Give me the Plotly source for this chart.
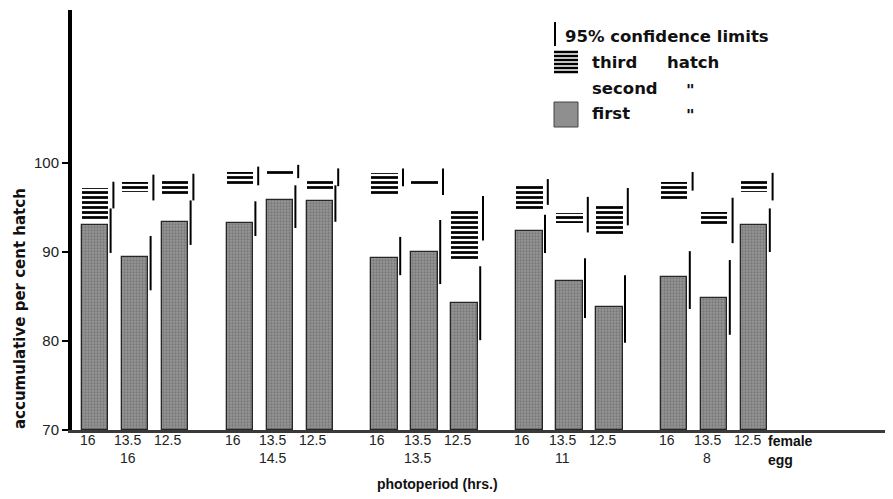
import plotly.graph_objects as go

# ---------------- data ----------------
egg_photoperiod = ["16", "14.5", "13.5", "11", "8"]
female_photoperiod = ["16", "13.5", "12.5"]

# cumulative per cent hatch (top of each hatch segment)
first_hatch = [93.0, 89.4, 93.4, 93.3, 95.8, 95.7, 89.3, 90.0, 84.3,
               92.4, 86.7, 83.8, 87.2, 84.8, 93.0]
second_hatch = [93.7, 96.8, 96.4, 97.7, 98.7, 97.1, 96.3, 97.7, 89.1,
                94.7, 93.3, 92.0, 95.8, 92.9, 96.8]
third_hatch = [97.2, 97.9, 98.2, 99.0, 99.3, 98.1, 98.9, 98.1, 94.7,
               97.4, 94.4, 95.2, 97.9, 94.5, 98.1]

# 95% confidence limits, first hatch
first_ci_low = [89.9, 85.7, 90.8, 91.8, 92.7, 93.4, 87.4, 86.4, 80.1,
                89.9, 82.6, 79.8, 83.6, 80.7, 90.0]
first_ci_high = [94.9, 91.8, 95.8, 95.7, 97.5, 97.5, 91.7, 93.6, 88.4,
                 94.2, 89.3, 87.4, 90.1, 89.1, 94.9]
# 95% confidence limits, cumulative (third hatch)
total_ci_low = [94.9, 95.8, 95.8, 97.5, 98.3, 97.4, 97.4, 96.4, 91.3,
                95.3, 92.2, 93.0, 96.9, 91.0, 95.8]
total_ci_high = [97.9, 98.7, 98.8, 99.6, 99.8, 99.4, 99.4, 99.4, 96.3,
                 98.2, 96.2, 97.2, 99.0, 96.1, 98.9]

y_ticks = [70, 80, 90, 100]

# ---------------- layout helpers ----------------
# the page body has an 8px margin, so the figure is sized/placed to compensate
PAGE_OFF = 8
W, H = 893 - PAGE_OFF, 499 - PAGE_OFF
L, R, T, B = 72 - PAGE_OFF, 0, 10 - PAGE_OFF, 69
PW, PH = W - L - R, H - T - B

def pxx(x):
    return (x - PAGE_OFF - L) / PW

def pxy(y):
    return (H - B - (y - PAGE_OFF)) / PH

GROUP_GAP = 3.62
BAR_W = 0.66
pos = []
for g in range(len(egg_photoperiod)):
    for i in range(len(female_photoperiod)):
        pos.append(i + GROUP_GAP * g)
LABEL_SHIFT = -0.18

fig = go.Figure()

fig.add_trace(go.Bar(
    x=pos, y=[f - 70 for f in first_hatch], base=70, width=BAR_W,
    marker=dict(color="#8e8e8e", line=dict(color="#262626", width=1.3),
                pattern=dict(shape=".", fgcolor="#5a5a5a", bgcolor="#969696",
                             size=3, solidity=0.45)),
    name="first", showlegend=False))

fig.add_trace(go.Bar(
    x=pos, y=[s - f for s, f in zip(second_hatch, first_hatch)],
    base=first_hatch, width=BAR_W,
    marker=dict(color="rgba(255,255,255,0)", line=dict(width=0)),
    name="second", showlegend=False))

fig.add_trace(go.Bar(
    x=pos, y=[t - s for t, s in zip(third_hatch, second_hatch)],
    base=second_hatch, width=BAR_W,
    marker=dict(color="white", line=dict(width=0),
                pattern=dict(shape="-", fgcolor="black", bgcolor="white",
                             size=5, solidity=0.55, fgopacity=1)),
    name="third", showlegend=False))

def ci_trace(offset, lo, hi):
    xs, ys = [], []
    for p, a, b in zip(pos, lo, hi):
        xs += [p + offset, p + offset, None]
        ys += [a, b, None]
    return go.Scatter(x=xs, y=ys, mode="lines",
                      line=dict(color="black", width=2),
                      showlegend=False, hoverinfo="skip")

fig.add_trace(ci_trace(0.39, first_ci_low, first_ci_high))
fig.add_trace(ci_trace(0.46, total_ci_low, total_ci_high))

fig.update_layout(
    width=W, height=H,
    margin=dict(l=L, r=R, t=T, b=B, autoexpand=False),
    plot_bgcolor="white", paper_bgcolor="white",
    barmode="overlay", bargap=0,
    xaxis=dict(range=[-0.575, 19.95], showgrid=False, zeroline=False,
               automargin=False, showticklabels=False, ticks="",
               showline=True, linecolor="#3a3a3a", linewidth=3),
    yaxis=dict(range=[70, 117.2], showgrid=False, zeroline=False,
               automargin=False,
               showline=True, linecolor="black", linewidth=4,
               tickvals=y_ticks, ticks="outside", ticklen=6, tickwidth=1.5,
               tickcolor="black",
               tickfont=dict(family="Liberation Sans, sans-serif", size=15,
                             color="#222")),
    font=dict(family="Liberation Sans, sans-serif", color="#111"),
)

ann = []
tick_font = dict(family="Liberation Sans Narrow, Liberation Sans, sans-serif",
                 size=14, color="#222")
k = 0
for g, egg in enumerate(egg_photoperiod):
    for i, fem in enumerate(female_photoperiod):
        ann.append(dict(x=pos[k] + LABEL_SHIFT, y=pxy(440), xref="x", yref="paper",
                        xanchor="center", yanchor="middle", text=fem,
                        showarrow=False, font=tick_font))
        if i == 1:
            ann.append(dict(x=pos[k] + LABEL_SHIFT, y=pxy(458), xref="x", yref="paper",
                            xanchor="center", yanchor="middle", text=egg,
                            showarrow=False, font=tick_font))
        k += 1

ann.append(dict(x=pxx(20), y=pxy(309), xref="paper", yref="paper",
                xanchor="center", yanchor="middle",
                text="<b>accumulative per cent hatch</b>", textangle=-90,
                showarrow=False,
                font=dict(family="DejaVu Sans, sans-serif", size=15, color="#111")))
ann.append(dict(x=pxx(437), y=pxy(484), xref="paper", yref="paper",
                xanchor="center", yanchor="middle",
                text="<b>photoperiod (hrs.)</b>", showarrow=False,
                font=dict(family="Liberation Sans, sans-serif", size=14, color="#111")))
ann.append(dict(x=pxx(766), y=pxy(441), xref="paper", yref="paper",
                xanchor="left", yanchor="middle",
                text="<b>female</b>", showarrow=False,
                font=dict(family="Liberation Sans, sans-serif", size=14, color="#111")))
ann.append(dict(x=pxx(766), y=pxy(460), xref="paper", yref="paper",
                xanchor="left", yanchor="middle",
                text="<b>egg</b>", showarrow=False,
                font=dict(family="Liberation Sans, sans-serif", size=14, color="#111")))

leg_font = dict(family="DejaVu Sans, sans-serif", size=16.5, color="#111")
for txt, x, y in [("95% confidence limits", 563, 36), ("third", 590, 62),
                  ("hatch", 665, 62), ("second", 590, 88), ('"', 684, 90),
                  ("first", 590, 113), ('"', 684, 115)]:
    ann.append(dict(x=pxx(x), y=pxy(y), xref="paper", yref="paper",
                    xanchor="left", yanchor="middle",
                    text="<b>" + txt + "</b>", showarrow=False, font=leg_font))
fig.update_layout(annotations=ann)

shapes = [dict(type="line", xref="paper", yref="paper", x0=pxx(555), x1=pxx(555),
               y0=pxy(22), y1=pxy(46), line=dict(color="black", width=2))]
for yy in [52, 56, 60, 64, 68, 72]:
    shapes.append(dict(type="line", xref="paper", yref="paper", x0=pxx(554), x1=pxx(578),
                       y0=pxy(yy), y1=pxy(yy), line=dict(color="black", width=2.5)))
shapes.append(dict(type="rect", xref="paper", yref="paper", x0=pxx(554), x1=pxx(578),
                   y0=pxy(102), y1=pxy(127), fillcolor="#8f8f8f",
                   line=dict(color="#444", width=1)))
fig.update_layout(shapes=shapes)

fig.write_html("out.html")
